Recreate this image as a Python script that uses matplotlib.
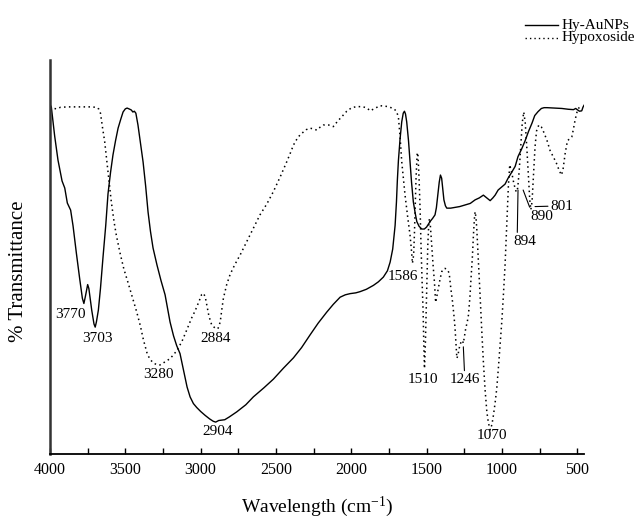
import matplotlib
matplotlib.use("Agg")
import matplotlib.pyplot as plt
from matplotlib.ticker import MultipleLocator
from matplotlib.lines import Line2D

plt.rcParams['font.family'] = ['Liberation Serif', 'DejaVu Serif']
plt.rcParams['mathtext.fontset'] = 'custom'
plt.rcParams['mathtext.rm'] = 'Liberation Serif'
plt.rcParams['mathtext.it'] = 'Liberation Serif:italic'

# ---- Hy-AuNPs (solid) ----
au_wn = [4000, 3991, 3969, 3947, 3920, 3902, 3885, 3863, 3847, 3825, 3803, 3785, 3775, 3765,
         3750, 3742, 3723, 3708, 3700, 3692, 3679, 3665, 3648, 3630, 3615, 3598, 3582, 3565,
         3548, 3530, 3515, 3500, 3488, 3470, 3460, 3450, 3440, 3430, 3416, 3400, 3382, 3365,
         3349, 3333, 3316, 3290, 3263, 3236, 3203, 3180, 3159, 3137, 3115, 3090, 3070, 3048,
         3026, 3000, 2970, 2940, 2916, 2900, 2880, 2860, 2840, 2810, 2760, 2700, 2650, 2580,
         2517, 2450, 2384, 2330, 2274, 2220, 2163, 2119, 2074, 2040, 2008, 1970, 1942, 1900,
         1853, 1820, 1787, 1760, 1742, 1725, 1709, 1700, 1694, 1687, 1676, 1665, 1655, 1647,
         1640, 1632, 1620, 1610, 1600, 1588, 1575, 1565, 1550, 1532, 1515, 1500, 1477, 1460,
         1444, 1435, 1426, 1416, 1408, 1400, 1392, 1385, 1375, 1366, 1340, 1311, 1280, 1244,
         1210, 1178, 1150, 1123, 1100, 1078, 1060, 1045, 1025, 1000, 979, 959, 935, 912, 893,
         868, 846, 824, 800, 782, 760, 738, 720, 700, 650, 602, 560, 525, 510, 500, 485, 470,
         462, 455]
au_t = [88.8, 88.0, 80.7, 74.6, 69.3, 67.5, 63.7, 61.9, 57.9, 51.0, 44.5, 39.5, 38.2, 40.0,
        43.0, 42.0, 36.5, 33.0, 32.2, 33.5, 36.5, 42.0, 50.0, 58.0, 66.0, 71.5, 75.9, 79.5,
        82.7, 85.0, 86.8, 87.6, 87.8, 87.5, 87.3, 86.8, 87.0, 86.5, 83.5, 79.0, 74.1, 68.0,
        61.4, 56.5, 52.3, 48.0, 44.0, 40.4, 33.5, 30.0, 27.5, 25.5, 21.5, 17.0, 14.5, 12.8,
        11.8, 10.8, 9.8, 8.9, 8.3, 8.1, 8.5, 8.6, 8.7, 9.4, 10.7, 12.5, 14.5, 16.8,
        19.0, 21.8, 24.4, 27.0, 30.2, 33.2, 36.0, 38.0, 39.8, 40.4, 40.7, 40.9, 41.2, 41.8,
        42.8, 43.7, 44.9, 46.5, 48.7, 52.0, 58.0, 64.0, 69.5, 74.5, 80.0, 84.3, 86.5, 87.0,
        86.3, 84.3, 79.5, 74.2, 69.0, 64.0, 61.0, 59.0, 57.8, 57.1, 57.1, 57.6, 59.0, 59.8,
        60.7, 62.5, 65.7, 69.0, 70.8, 70.0, 67.0, 64.5, 63.0, 62.4, 62.4, 62.6, 62.8, 63.2,
        63.6, 64.5, 65.0, 65.7, 65.0, 64.3, 65.0, 65.7, 67.0, 67.8, 68.5, 70.0, 71.5, 73.0, 75.5,
        77.5, 79.5, 81.8, 84.0, 85.9, 86.9, 87.7, 87.9, 87.9, 87.8, 87.7, 87.5, 87.4, 87.7, 87.4, 87.0, 87.1,
        88.0, 88.5]

# ---- Hypoxoside (dotted) ----
hy_wn = [4000, 3985, 3958, 3930, 3880, 3800, 3740, 3690, 3675, 3665, 3650, 3637, 3615, 3593,
         3575, 3560, 3535, 3510, 3482, 3455, 3424, 3400, 3380, 3355, 3336, 3310, 3285, 3270,
         3240, 3203, 3180, 3159, 3125, 3092, 3060, 3037, 3010, 2993, 2983, 2970, 2960, 2945,
         2926, 2905, 2885, 2870, 2860, 2849, 2827, 2805, 2783, 2760, 2738, 2694, 2650, 2606,
         2560, 2517, 2470, 2428, 2400, 2384, 2360, 2340, 2300, 2274, 2250, 2229, 2205, 2185,
         2150, 2119, 2090, 2063, 2030, 1997, 1960, 1920, 1895, 1875, 1850, 1809, 1760, 1720,
         1700, 1687, 1676, 1665, 1643, 1625, 1610, 1600, 1594, 1586, 1581, 1575, 1570, 1563,
         1558, 1550, 1543, 1537, 1530, 1523, 1518, 1514, 1508, 1503, 1497, 1492, 1486, 1481,
         1475, 1466, 1457, 1448, 1440, 1432, 1422, 1410, 1399, 1388, 1377, 1362, 1350, 1339,
         1328, 1318, 1311, 1304, 1299, 1292, 1284, 1271, 1262, 1256, 1248, 1240, 1230, 1222,
         1212, 1205, 1196, 1189, 1182, 1178, 1172, 1167, 1156, 1145, 1134, 1123, 1112, 1100,
         1090, 1078, 1066, 1056, 1045, 1034, 1023, 1012, 1000, 990, 979, 968, 957, 948, 935,
         920, 905, 895, 885, 875, 865, 855, 845, 835, 825, 815, 808, 800, 790, 780, 770, 755,
         738, 720, 700, 680, 660, 640, 620, 605, 595, 580, 565, 550, 536, 525, 514, 500, 490,
         481]
hy_t = [88.1, 87.8, 87.6, 88.0, 88.1, 88.1, 88.1, 88.0, 87.5, 86.5, 82.5, 79.3, 71.6, 64.0,
        59.0, 55.6, 51.0, 47.0, 43.5, 40.0, 36.0, 32.5, 29.0, 25.5, 24.0, 23.0, 22.6, 22.6,
        23.3, 24.2, 25.2, 26.2, 28.5, 31.5, 34.5, 36.3, 38.8, 40.5, 40.8, 40.0, 38.0, 35.0,
        32.7, 32.0, 31.8, 33.5, 36.5, 39.5, 43.0, 45.5, 47.3, 49.0, 50.5, 53.9, 57.3, 60.7,
        63.5, 66.6, 70.5, 74.2, 76.8, 78.4, 80.0, 81.0, 82.3, 82.7, 82.5, 82.2, 83.0, 83.5,
        83.5, 83.1, 84.5, 85.6, 87.0, 87.9, 88.2, 88.1, 87.8, 87.1, 87.6, 88.4, 88.2, 87.7,
        87.0, 85.5, 80.5, 74.2, 65.7, 60.0, 55.6, 51.5, 48.4, 50.5, 55.6, 63.0, 70.0, 76.0,
        76.5, 70.0, 62.0, 53.0, 44.0, 36.1, 27.0, 21.7, 28.0, 36.1, 45.0, 53.0, 58.0, 59.8,
        58.0, 53.0, 48.0, 43.7, 38.5, 40.0, 42.1, 44.5, 46.3, 47.0, 47.1, 46.8, 45.9, 42.0,
        38.7, 35.0, 31.9, 27.5, 24.3, 25.0, 26.8, 28.5, 28.8, 28.1, 30.0, 31.9, 33.5, 35.3,
        40.0, 44.6, 50.0, 55.6, 60.0, 61.5, 60.0, 57.3, 49.0, 40.4, 31.5, 23.4, 16.5, 10.7,
        8.0, 6.1, 7.5, 9.9, 13.0, 16.7, 22.0, 27.7, 34.0, 40.4, 48.0, 58.0, 68.0, 73.4, 71.5,
        68.5, 66.5, 67.5, 72.0, 78.0, 84.0, 86.8, 84.0, 78.0, 71.0, 64.5, 62.0, 64.0, 71.0, 78.0, 82.0, 83.5,
        83.0, 81.5, 79.5, 77.0, 75.5, 74.0, 72.0, 70.8, 72.0, 76.3, 79.5, 80.0, 80.5, 82.5, 84.8, 87.0, 87.8,
        88.1]

series_names = ['Hy-AuNPs', 'Hypoxoside']
x_ticks = [4000, 3500, 3000, 2500, 2000, 1500, 1000, 500]

# peak labels: text, label position (wn, T)
peak_labels = ['3770', '3703', '3280', '2884', '2904', '1586', '1510', '1070']
peak_label_pos = [(3867, 35.5), (3683, 29.2), (3280, 20.2), (2901, 29.2), (2884, 5.8),
                  (1656, 45.0), (1527, 18.8), (1065, 4.6)]
# labels with leader lines: text, label position, line end, attachment point on label
leader_labels = ['1246', '894', '890', '801']
leader_text_pos = [(1248, 18.8), (848, 53.9), (733, 60.3), (600, 62.9)]
leader_xy = [(1256, 27.2), (893, 67.0), (859, 67.0), (780, 62.8)]
leader_relpos = [(0.5, 1.0), (0.17, 1.0), (0.0, 1.0), (0.0, 0.5)]

fig = plt.figure(figsize=(6.43, 5.27), dpi=100)
ax = fig.add_axes([50 / 643, 73 / 527, 534 / 643, 394 / 527])

ax.plot(au_wn, au_t, color='black', lw=1.0, solid_joinstyle='round')
ax.plot(hy_wn, hy_t, color='black', lw=1.1, linestyle=(0, (1, 2.2)))

ax.set_xlim(4000, 455)
ax.set_ylim(0, 100)
ax.spines['top'].set_visible(False)
ax.spines['right'].set_visible(False)
ax.spines['left'].set_linewidth(1.8)
ax.spines['left'].set_color('#333333')
ax.spines['bottom'].set_linewidth(1.3)
ax.set_yticks([])
ax.set_xticks(x_ticks)
ax.xaxis.set_minor_locator(MultipleLocator(250))
ax.tick_params(axis='x', which='both', direction='in', length=4, width=1.0,
               labelsize=11.5, pad=6)

ax.set_xlabel('Wavelength (cm$^{-1}$)', fontsize=14, labelpad=12)
ax.set_ylabel('% Transmittance', fontsize=15)
ax.yaxis.set_label_coords(-0.041, 0.465)

for txt, pos in zip(peak_labels, peak_label_pos):
    ax.text(pos[0], pos[1], txt, fontsize=11, ha='center', va='center')

for txt, tpos, xy, rp in zip(leader_labels, leader_text_pos, leader_xy, leader_relpos):
    ax.annotate(txt, xy=xy, xytext=tpos, fontsize=11, ha='center', va='center',
                arrowprops=dict(arrowstyle='-', lw=0.8, color='black', relpos=rp,
                                shrinkA=0, shrinkB=0))

# legend (manual, tight rows as in the reference)
leg_y = [1 - 25 / 527, 1 - 38 / 527]
leg_styles = ['-', (0, (1, 2.2))]
for name, yy, ls in zip(series_names, leg_y, leg_styles):
    fig.add_artist(Line2D([525 / 643, 558 / 643], [yy, yy], color='black', lw=1.0,
                          linestyle=ls, transform=fig.transFigure))
    fig.text(562 / 643, yy, name, fontsize=11, ha='left', va='center')

fig.savefig('out.png', dpi=100)
